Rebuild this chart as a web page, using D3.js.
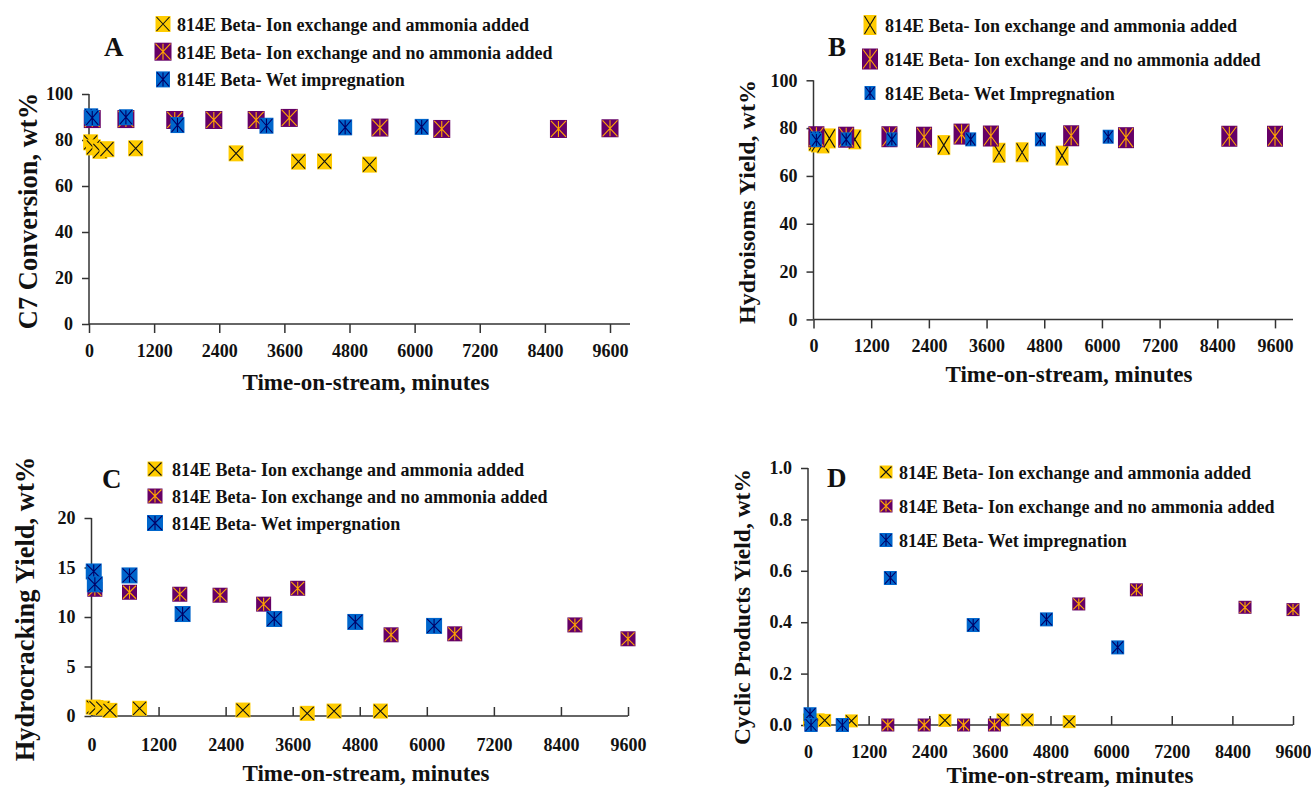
<!DOCTYPE html>
<html>
<head>
<meta charset="utf-8">
<script src="https://cdn.jsdelivr.net/npm/d3@7"></script>
<style>
  html, body { margin: 0; padding: 0; background: #fff; }
  svg { display: block; }
  text { font-family: "Liberation Serif", "Times New Roman", Times, serif; font-weight: bold; fill: #111; }
</style>
</head>
<body>
<svg id="chart" width="1311" height="788"></svg>
<script>
// ---- data: time-on-stream (minutes) for each catalyst preparation ----
const timesAmmonia   = [30, 80, 200, 330, 860, 2710, 3860, 4340, 5170];
const timesNoAmmonia = [60, 680, 1580, 2300, 3080, 3690, 5360, 6500, 8650, 9600];
const timesWet       = [40, 60, 680, 1630, 3270, 4720, 6130];

// A: C7 conversion, wt%
const convAmmonia   = [79, 76.8, 75.3, 76, 76.4, 74.2, 70.6, 70.7, 69.3];
const convNoAmmonia = [89.1, 89.1, 88.7, 88.7, 88.7, 89.6, 85.4, 84.8, 84.8, 85.1];
const convWet       = [90.3, 89.6, 89.9, 86.5, 86.2, 85.5, 85.7];

// B: hydroisomers yield, wt%
const isoAmmonia   = [74.5, 74, 73.6, 75.7, 75.3, 72.9, 69.7, 69.9, 68.5];
const isoNoAmmonia = [76.4, 76.2, 76.4, 76.2, 77.5, 76.7, 76.8, 76, 76.6, 76.6];
const isoWet       = [75.7, 75, 75.3, 75.3, 75.3, 75.3, 76.4];

// C: hydrocracking yield, wt%
const crackAmmonia   = [0.9, 0.85, 0.8, 0.57, 0.78, 0.6, 0.27, 0.5, 0.5];
const crackNoAmmonia = [12.8, 12.5, 12.3, 12.2, 11.3, 12.9, 8.2, 8.3, 9.2, 7.8];
const crackWet       = [14.6, 13.3, 14.2, 10.3, 9.8, 9.5, 9.1];

// D: cyclic products yield, wt%
const cycAmmonia   = [0.02, 0.015, 0.02, 0.018, 0.016, 0.018, 0.02, 0.02, 0.013];
const cycNoAmmonia = [0, 0, 0, 0, 0, 0, 0.471, 0.526, 0.458, 0.449];
const cycWet       = [0.042, 0, 0, 0.572, 0.389, 0.411, 0.302];

const xTickValues = [0, 1200, 2400, 3600, 4800, 6000, 7200, 8400, 9600];
const legendAmmonia   = "814E Beta- Ion exchange and ammonia added";
const legendNoAmmonia = "814E Beta- Ion exchange and no ammonia added";

// ---- marker styles ----
const STYLE = {
  ammonia:   { fill: "#FFCC00", stroke: "#111111", star: false },
  noAmmonia: { fill: "#660066", stroke: "#FFA500", star: true },
  wet:       { fill: "#0066CC", stroke: "#000066", star: true }
};

function zip(times, values) { return times.map((t, i) => ({ t, v: values[i] })); }

function drawMarker(sel, kind, w, h) {
  const s = STYLE[kind];
  sel.append("rect")
    .attr("x", -w / 2).attr("y", -h / 2).attr("width", w).attr("height", h)
    .attr("fill", s.fill);
  let d = `M${-w/2+1},${-h/2+1}L${w/2-1},${h/2-1}M${w/2-1},${-h/2+1}L${-w/2+1},${h/2-1}`;
  if (s.star) d += `M0,${-h/2+1}L0,${h/2-1}`;
  sel.append("path").attr("d", d).attr("stroke", s.stroke).attr("stroke-width", 1.1).attr("fill", "none");
}

const panels = [
  {
    letter: "A", letterPos: [104, 56],
    xr: [89, 610], axisEnd: 630, yr: [324, 94], yMax: 100, yTicks: [0, 20, 40, 60, 80, 100], fmt: d3.format("d"),
    tickUp: false, xPad: 11,
    yTitle: "C7 Conversion, wt%", yTitlePos: [28, 211], yTitleSize: 26.5,
    xTitlePos: [366, 390],
    legend: { x: 163, y: 24, dy: 27.7, tx: 177, wet: "814E Beta- Wet impregnation" },
    sizes: { ammonia: [15, 16], noAmmonia: [17, 18], wet: [14, 16] },
    series: { ammonia: zip(timesAmmonia, convAmmonia), noAmmonia: zip(timesNoAmmonia, convNoAmmonia), wet: zip(timesWet, convWet) }
  },
  {
    letter: "B", letterPos: [828, 56],
    xr: [813.5, 1275], axisEnd: 1293, yr: [319.4, 80.3], yMax: 100, yTicks: [0, 20, 40, 60, 80, 100], fmt: d3.format("d"),
    tickUp: false, xPad: 11,
    yTitle: "Hydroisoms Yield, wt%", yTitlePos: [747, 202], yTitleSize: 24,
    xTitlePos: [1069, 382],
    legend: { x: 870, y: 25, dy: 34, tx: 885, wet: "814E Beta- Wet Impregnation" },
    sizes: { ammonia: [13, 20], noAmmonia: [16, 21], wet: [11, 14] },
    series: { ammonia: zip(timesAmmonia, isoAmmonia), noAmmonia: zip(timesNoAmmonia, isoNoAmmonia), wet: zip(timesWet, isoWet) }
  },
  {
    letter: "C", letterPos: [102, 488],
    xr: [91.5, 628], axisEnd: 628, yr: [716, 518], yMax: 20, yTicks: [0, 5, 10, 15, 20], fmt: d3.format("d"),
    tickUp: true, xPad: 22,
    yTitle: "Hydrocracking Yield, wt%", yTitlePos: [25, 609], yTitleSize: 26.5,
    xTitlePos: [366, 781],
    legend: { x: 155, y: 469, dy: 27, tx: 172, wet: "814E Beta- Wet impergnation" },
    sizes: { ammonia: [15, 15], noAmmonia: [15, 15], wet: [16, 16] },
    series: { ammonia: zip(timesAmmonia, crackAmmonia), noAmmonia: zip(timesNoAmmonia, crackNoAmmonia), wet: zip(timesWet, crackWet) }
  },
  {
    letter: "D", letterPos: [827, 487],
    xr: [808, 1293], axisEnd: 1293, yr: [725, 468], yMax: 1, yTicks: [0, 0.2, 0.4, 0.6, 0.8, 1.0], fmt: d3.format(".1f"),
    tickUp: true, xPad: 20,
    yTitle: "Cyclic Products Yield, wt%", yTitlePos: [742, 607], yTitleSize: 23.5,
    xTitlePos: [1070, 783],
    legend: { x: 886, y: 472, dy: 34, tx: 899, wet: "814E Beta- Wet impregnation" },
    sizes: { ammonia: [13, 13], noAmmonia: [13, 13], wet: [13, 14] },
    series: { ammonia: zip(timesAmmonia, cycAmmonia), noAmmonia: zip(timesNoAmmonia, cycNoAmmonia), wet: zip(timesWet, cycWet) }
  }
];

const svg = d3.select("#chart");
const AXIS_COLOR = "#333";

panels.forEach(p => {
  const g = svg.append("g");
  const x = d3.scaleLinear().domain([0, 9600]).range(p.xr);
  const y = d3.scaleLinear().domain([0, p.yMax]).range(p.yr);

  // y axis
  const yAxis = d3.axisLeft(y).tickValues(p.yTicks).tickFormat(p.fmt).tickSizeInner(7).tickSizeOuter(0).tickPadding(9);
  const gy = g.append("g").attr("transform", `translate(${p.xr[0]},0)`).call(yAxis);

  // x axis
  const xAxis = d3.axisBottom(x).tickValues(xTickValues).tickFormat(d3.format("d"))
    .tickSizeInner(p.tickUp ? -9 : 9).tickSizeOuter(0).tickPadding(p.xPad);
  const gx = g.append("g").attr("transform", `translate(0,${p.yr[0]})`).call(xAxis);

  [gx, gy].forEach(a => {
    a.attr("font-family", null).attr("font-size", null);
    a.select(".domain").remove();
    a.selectAll(".tick line").attr("stroke", AXIS_COLOR).attr("stroke-width", 1.5);
    a.selectAll(".tick text").attr("font-size", 18).attr("fill", "#111");
  });
  g.append("line").attr("x1", p.xr[0]).attr("x2", p.xr[0]).attr("y1", p.yr[0]).attr("y2", p.yr[1])
    .attr("stroke", AXIS_COLOR).attr("stroke-width", 1.5);
  g.append("line").attr("x1", p.xr[0]).attr("x2", p.axisEnd).attr("y1", p.yr[0]).attr("y2", p.yr[0])
    .attr("stroke", AXIS_COLOR).attr("stroke-width", 1.5);

  // titles
  g.append("text").attr("x", p.xTitlePos[0]).attr("y", p.xTitlePos[1])
    .attr("text-anchor", "middle").attr("font-size", 23).text("Time-on-stream, minutes");
  g.append("text").attr("transform", `translate(${p.yTitlePos[0]},${p.yTitlePos[1]}) rotate(-90)`)
    .attr("text-anchor", "middle").attr("dominant-baseline", "central").attr("font-size", p.yTitleSize).text(p.yTitle);
  g.append("text").attr("x", p.letterPos[0]).attr("y", p.letterPos[1]).attr("font-size", 27).text(p.letter);

  // points
  ["ammonia", "noAmmonia", "wet"].forEach(kind => {
    const [w, h] = p.sizes[kind];
    g.append("g").selectAll("g").data(p.series[kind]).join("g")
      .attr("transform", d => `translate(${x(d.t)},${y(d.v)})`)
      .each(function () { drawMarker(d3.select(this), kind, w, h); });
  });

  // legend
  const labels = { ammonia: legendAmmonia, noAmmonia: legendNoAmmonia, wet: p.legend.wet };
  ["ammonia", "noAmmonia", "wet"].forEach((kind, i) => {
    const cy = p.legend.y + i * p.legend.dy;
    const [w, h] = p.sizes[kind];
    const lg = g.append("g").attr("transform", `translate(${p.legend.x},${cy})`);
    drawMarker(lg, kind, w, h);
    g.append("text").attr("x", p.legend.tx).attr("y", cy + 7).attr("font-size", 18).text(labels[kind]);
  });
});
</script>
</body>
</html>
